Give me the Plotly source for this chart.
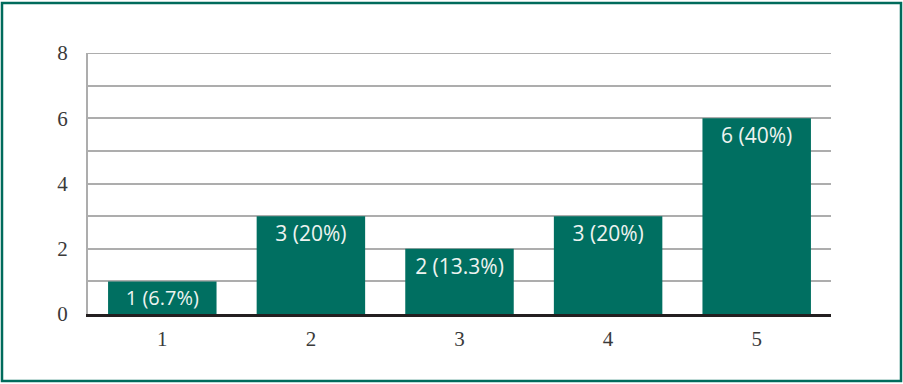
import plotly.graph_objects as go

categories = ["1", "2", "3", "4", "5"]
counts = [1, 3, 2, 3, 6]
labels = ["1 (6.7%)", "3 (20%)", "2 (13.3%)", "3 (20%)", "6 (40%)"]
y_ticks = [0, 2, 4, 6, 8]

BAR = "#006F61"
GRID = "#ADADAD"
L, R, T, B = 88, 72, 53, 70
W, H = 903, 384
pw, ph = W - L - R, H - T - B

fig = go.Figure(go.Bar(
    x=categories, y=counts, text=labels,
    marker=dict(color=BAR, line=dict(width=0)),
    width=0.73,
    textposition="inside", insidetextanchor="end",
    textfont=dict(family="Open Sans", size=21, color="#EEF3F0"),
    textangle=0, cliponaxis=False,
))

fig.update_layout(
    width=W, height=H,
    margin=dict(l=L, r=R, t=T, b=B),
    paper_bgcolor="white", plot_bgcolor="white",
    showlegend=False,
    xaxis=dict(
        type="category", showgrid=False, showline=True, linecolor="#231F20",
        linewidth=3, layer="below traces", ticks="",
        tickfont=dict(family="Liberation Serif", size=21, color="#3a3a3a"),
        ticklabelstandoff=4,
    ),
    yaxis=dict(
        range=[0, 8], tickvals=y_ticks, showgrid=True, gridcolor=GRID,
        gridwidth=2, showline=True, linecolor=GRID, linewidth=2,
        zeroline=False, layer="below traces", ticks="",
        minor=dict(dtick=1, showgrid=True, gridcolor=GRID, gridwidth=2),
        tickfont=dict(family="Liberation Serif", size=21, color="#3a3a3a"),
        ticklabelstandoff=14,
    ),
    shapes=[
        dict(
            type="rect", xref="paper", yref="paper",
            x0=(2 - L) / pw, x1=(901 - L) / pw,
            y0=(H - B - 381) / ph, y1=(H - B - 3) / ph,
            line=dict(color="#006B5C", width=2.5), fillcolor="rgba(0,0,0,0)",
            layer="below",
        ),
        dict(
            type="line", xref="paper", yref="y", x0=0, x1=1,
            y0=y_ticks[-1], y1=y_ticks[-1],
            line=dict(color=GRID, width=2), layer="below",
        ),
    ],
)

fig.write_html(
    "out.html",
    config={"displayModeBar": False},
    post_script="document.body.style.margin='0';document.body.style.padding='0';",
)
